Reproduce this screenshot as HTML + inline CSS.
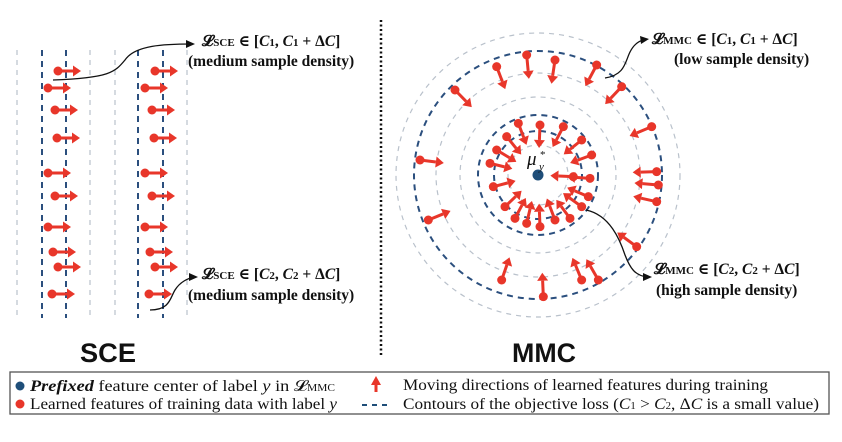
<!DOCTYPE html>
<html><head><meta charset="utf-8"><style>
body{margin:0;background:#fff;}
svg{display:block;}
.lbl{font-family:"Liberation Serif","DejaVu Serif",serif;font-weight:bold;font-size:15.5px;fill:#111;}
.lg{font-family:"Liberation Serif","DejaVu Serif",serif;font-size:16px;fill:#111;}
.big{font-family:"Liberation Sans",sans-serif;font-weight:bold;font-size:27px;fill:#111;}
</style></head><body>
<svg id="s" width="842" height="442" viewBox="0 0 842 442" xmlns="http://www.w3.org/2000/svg">
<g id="lines"></g>
<g id="arrows"></g>
<line x1="381" y1="20" x2="381" y2="356" stroke="#111" stroke-width="2.5" stroke-dasharray="2,2.5"/>
<path d="M53,80 C110,78 115,72 125,60 C135,45 165,44 192,44" fill="none" stroke="#111" stroke-width="1.3"/>
<path d="M186,40 L195,44 L186,48z" fill="#111"/>
<text class="lbl" x="202" y="46">𝓛<tspan font-size="11">SCE</tspan> ∈ [<tspan font-style="italic">C</tspan><tspan font-size="11">1</tspan>, <tspan font-style="italic">C</tspan><tspan font-size="11">1</tspan> + Δ<tspan font-style="italic">C</tspan>]</text>
<text class="lbl" x="188" y="66">(medium sample density)</text>
<path d="M150,310 C170,310 170,298 175,290 C180,282 188,278 195,277" fill="none" stroke="#111" stroke-width="1.3"/>
<path d="M189,273 L198,277 L189,281z" fill="#111"/>
<text class="lbl" x="202" y="279">𝓛<tspan font-size="11">SCE</tspan> ∈ [<tspan font-style="italic">C</tspan><tspan font-size="11">2</tspan>, <tspan font-style="italic">C</tspan><tspan font-size="11">2</tspan> + Δ<tspan font-style="italic">C</tspan>]</text>
<text class="lbl" x="188" y="300">(medium sample density)</text>
<path d="M605,78 C625,75 625,62 630,52 C634,44 640,40 645,40" fill="none" stroke="#111" stroke-width="1.3"/>
<path d="M640,36 L649,39 L641,44z" fill="#111"/>
<text class="lbl" x="652" y="44">𝓛<tspan font-size="11">MMC</tspan> ∈ [<tspan font-style="italic">C</tspan><tspan font-size="11">1</tspan>, <tspan font-style="italic">C</tspan><tspan font-size="11">1</tspan> + Δ<tspan font-style="italic">C</tspan>]</text>
<text class="lbl" x="674" y="64">(low sample density)</text>
<path d="M586,210 C610,215 620,240 625,255 C630,268 635,276 648,277" fill="none" stroke="#111" stroke-width="1.3"/>
<path d="M643,273 L652,277 L643,281z" fill="#111"/>
<text class="lbl" x="654" y="274">𝓛<tspan font-size="11">MMC</tspan> ∈ [<tspan font-style="italic">C</tspan><tspan font-size="11">2</tspan>, <tspan font-style="italic">C</tspan><tspan font-size="11">2</tspan> + Δ<tspan font-style="italic">C</tspan>]</text>
<text class="lbl" x="656" y="295">(high sample density)</text>
<circle cx="538" cy="175" r="5.5" fill="#1f4e79"/>
<text x="527" y="165" font-family="Liberation Serif,serif" font-style="italic" font-size="19" fill="#111">μ</text>
<text x="539" y="170" font-family="Liberation Serif,serif" font-style="italic" font-size="11" fill="#111">y</text>
<text x="540" y="158" font-family="Liberation Serif,serif" font-size="11" fill="#111">*</text>
<text class="big" x="80" y="362" textLength="56" lengthAdjust="spacingAndGlyphs">SCE</text>
<text class="big" x="512" y="362" textLength="64" lengthAdjust="spacingAndGlyphs">MMC</text>
<rect x="10" y="372" width="819" height="42" fill="#fff" stroke="#555" stroke-width="1.3"/>
<circle cx="20" cy="386" r="4.5" fill="#1f4e79"/>
<text class="lg" x="30" y="391" textLength="305" lengthAdjust="spacingAndGlyphs"><tspan font-weight="bold" font-style="italic">Prefixed</tspan> feature center of label <tspan font-style="italic">y</tspan> in 𝓛<tspan font-size="10">MMC</tspan></text>
<circle cx="20" cy="404" r="4.5" fill="#e8362a"/>
<text class="lg" x="30" y="409" textLength="307" lengthAdjust="spacingAndGlyphs">Learned features of training data with label <tspan font-style="italic">y</tspan></text>
<path d="M376,392 L376,384" stroke="#e8362a" stroke-width="3"/>
<path d="M371,385 L376,376 L381,385z" fill="#e8362a"/>
<text class="lg" x="403" y="390" textLength="365" lengthAdjust="spacingAndGlyphs">Moving directions of learned features during training</text>
<line x1="362" y1="405" x2="391" y2="405" stroke="#1f4e79" stroke-width="2" stroke-dasharray="5,5"/>
<text class="lg" x="403" y="409" textLength="416" lengthAdjust="spacingAndGlyphs">Contours of the objective loss (<tspan font-style="italic">C</tspan><tspan font-size="10">1</tspan> &gt; <tspan font-style="italic">C</tspan><tspan font-size="10">2</tspan>, Δ<tspan font-style="italic">C</tspan> is a small value)</text>
</svg>
<script>
var NS="http://www.w3.org/2000/svg";
function el(p,t,a){var e=document.createElementNS(NS,t);for(var k in a)e.setAttribute(k,a[k]);p.appendChild(e);return e;}
var L=document.getElementById('lines'),A=document.getElementById('arrows');
var blue="#2b4f7e",gray="#b9c1cb",red="#e8362a";
[[17,gray],[42,blue],[66,blue],[90,gray],[115,gray],[138,blue],[163,blue],[187,gray]].forEach(function(v){
 el(L,'line',{x1:v[0],y1:50,x2:v[0],y2:318,stroke:v[1],'stroke-width':v[1]==blue?2:1.2,'stroke-dasharray':v[1]==blue?'6,5':'5,5'});});
[[142,gray],[124,blue],[102,gray],[78,gray],[60,blue],[44,blue],[30,gray]].forEach(function(v){
 el(L,'circle',{cx:538,cy:175,r:v[0],fill:'none',stroke:v[1],'stroke-width':v[1]==blue?2:1.2,'stroke-dasharray':v[1]==blue?'6,5':'5,5'});});
function arrow(x,y,dx,dy,len){
 var n=Math.hypot(dx,dy);dx/=n;dy/=n;
 el(A,'circle',{cx:x,cy:y,r:4.5,fill:red});
 var ex=x+dx*(len-8),ey=y+dy*(len-8);
 el(A,'line',{x1:x,y1:y,x2:ex,y2:ey,stroke:red,'stroke-width':3});
 var tx=x+dx*len,ty=y+dy*len,px=-dy,py=dx;
 el(A,'path',{d:'M'+tx+','+ty+' L'+(ex+px*5.5)+','+(ey+py*5.5)+' L'+(ex-px*5.5)+','+(ey-py*5.5)+'z',fill:red});
}
var ys=[71,88,110,138,173,196,227,252,267,294],xs=[58,48,55,57,48,55,48,53,58,52];
for(var i=0;i<ys.length;i++){arrow(xs[i],ys[i],1,0,23);arrow(xs[i]+97,ys[i],1,0,23);}
var outer=[[380,105],[290,140],[465,120],[590,135],[665,200],[165,210],[755,320],[60,420],[770,455],[775,495],[770,545],[85,600],[710,680],[595,780],[545,780],[430,830],[305,780]];
outer.forEach(function(p){var x=p[0]/3+400,y=p[1]/3+20;arrow(x,y,538-x,175-y,24);});
var inner=[[355,310],[420,315],[490,320],[545,360],[575,405],[320,350],[290,390],[270,430],[280,500],[315,560],[345,595],[380,610],[420,620],[465,600],[510,595],[545,560],[565,530],[570,475],[520,470]];
inner.forEach(function(p){var x=p[0]/3+400,y=p[1]/3+20;arrow(x,y,538-x,175-y,23);});
</script>
</body></html>
